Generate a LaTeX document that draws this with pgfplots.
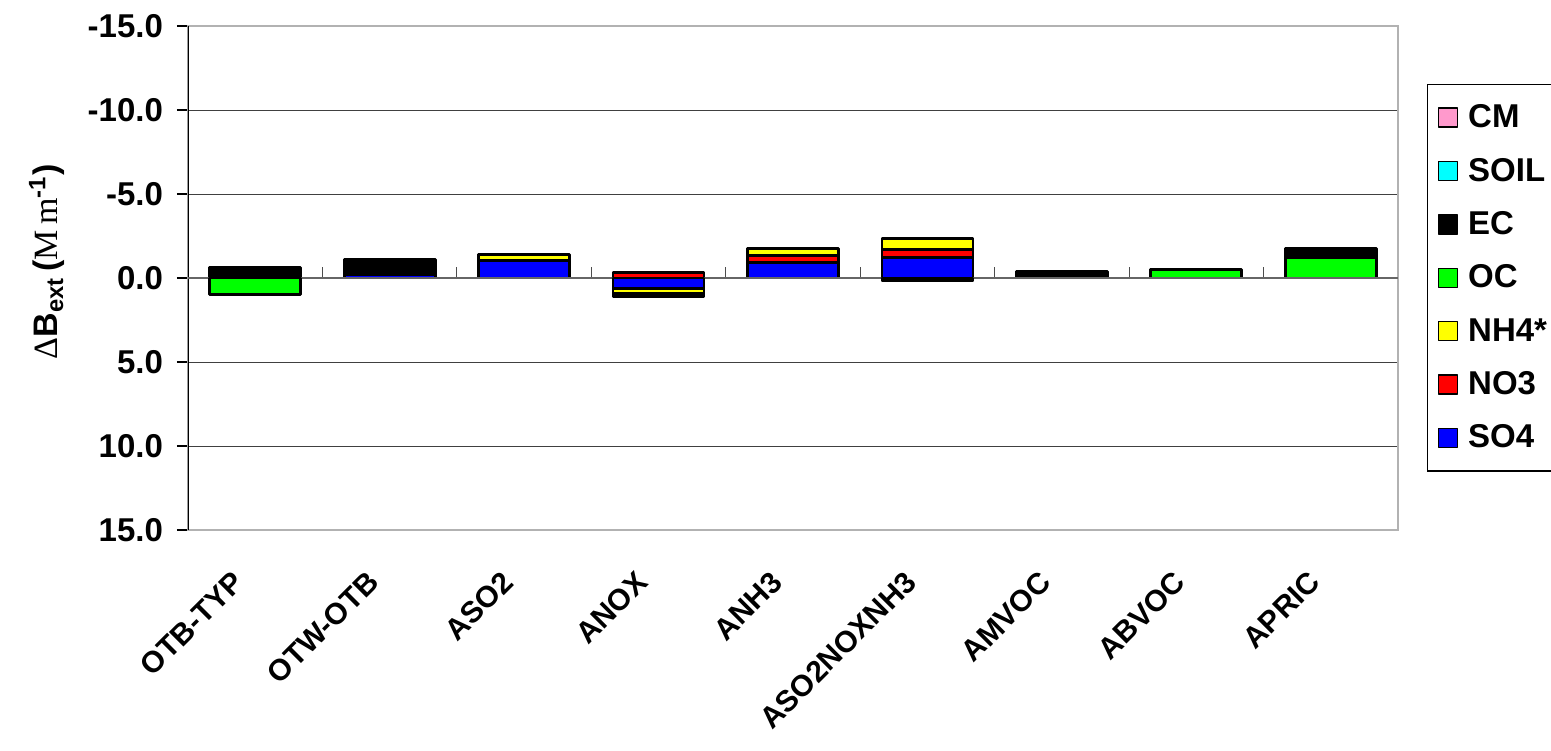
\documentclass[border=0pt]{standalone}
\usepackage{pgfplots}
\pgfplotsset{compat=1.18}
\usepackage{pgfplotstable}
\usepackage{fontspec}
\setmainfont{Liberation Sans}
\newfontfamily\serifff{Liberation Serif}

\definecolor{cSO4}{RGB}{0,0,255}
\definecolor{cNO3}{RGB}{255,0,0}
\definecolor{cNH4}{RGB}{255,255,0}
\definecolor{cOC}{RGB}{0,255,0}
\definecolor{cEC}{RGB}{0,0,0}
\definecolor{cSOIL}{RGB}{0,255,255}
\definecolor{cCM}{RGB}{255,153,204}

\pgfplotstableread{
x SO4 NO3 NH4 OC EC
0 0 0 0 0 -0.62
1 -0.22 0 0 0 -0.87
2 -1.05 0 -0.36 0 0
3 0 -0.35 0 0 0
4 -0.92 -0.44 -0.40 0 0
5 -1.24 -0.48 -0.64 0 0
6 0 0 0 0 -0.37
7 0 0 0 -0.52 0
8 0 0 0 -1.20 -0.56
}\negdata

\pgfplotstableread{
x SO4 NO3 NH4 OC EC
0 0 0 0 1.00 0
3 0.64 0 0.25 0 0.20
5 0 0 0 0 0.18
}\posdata

\newcommand{\fs}{\fontsize{16.5}{19}\selectfont\bfseries}
\newcommand{\fx}{\fontsize{15}{18}\selectfont\bfseries}

\pgfplotsset{
 mybar/.style={fill=#1, draw=black, line width=1.4pt, line join=round,
   legend image code/.code={\draw[fill=#1, draw=black, line width=0.8pt] (0pt,-4.75pt) rectangle (9.5pt,4.75pt);}},
 base/.style={width=605pt, height=252pt, scale only axis, at={(0,0)}, anchor=south west,
   xmin=-0.5, xmax=8.5, ymin=-15, ymax=15, y dir=reverse,
   ybar stacked, bar width=0.677},
}

\begin{document}
\begin{tikzpicture}
\useasboundingbox (-94pt,-110pt) rectangle (681.5pt,265pt);
\begin{axis}[base,
  axis line style={gray!60, line width=1pt},
  ymajorgrids, grid style={black!75, line width=0.5pt},
  ytick={-15,-10,-5,0,5,10,15},
  yticklabels={-15.0,-10.0,-5.0,0.0,5.0,10.0,15.0},
  ytick pos=left, tick align=outside, major tick length=5.5pt,
  ytick style={black, line width=0.6pt},
  yticklabel style={font=\fs, xshift=-3.5pt},
  xtick={0,1,2,3,4,5,6,7,8},
  xticklabels={OTB-TYP,OTW-OTB,ASO2,ANOX,ANH3,ASO2NOXNH3,AMVOC,ABVOC,APRIC},
  xtick style={draw=none},
  xticklabel style={font=\fx, xshift=-12pt, yshift=-14pt, rotate=45, anchor=north east, inner sep=0pt},
  ylabel={{\serifff Δ}\textbf{B\textsubscript{ext}\,(}{\serifff M\,m}\textbf{\textsuperscript{-1})}},
  ylabel style={font=\fontsize{17}{20}\selectfont, at={(axis description cs:-0.1165,0.532)}, anchor=center},
  legend cell align=left,
  reverse legend,
  legend style={at={(axis description cs:1.024,0.885)}, anchor=north west, draw=black, line width=0.6pt,
    font=\fs, row sep=9.7pt, column sep=3pt, inner xsep=5pt, inner ysep=8pt},
]
\draw[black!60, line width=0.8pt] (axis cs:-0.5,0) -- (axis cs:8.5,0);
\pgfplotsinvokeforeach{0.5,1.5,2.5,3.5,4.5,5.5,6.5,7.5}{
  \draw[black!70, line width=0.6pt] (axis cs:#1,0) -- ([yshift=5.3pt]axis cs:#1,0);
}
\addplot[mybar=cSO4] table[x=x,y=SO4]{\negdata};
\addlegendentry{SO4}
\addplot[mybar=cNO3] table[x=x,y=NO3]{\negdata};
\addlegendentry{NO3}
\addplot[mybar=cNH4] table[x=x,y=NH4]{\negdata};
\addlegendentry{NH4*}
\addplot[mybar=cOC] table[x=x,y=OC]{\negdata};
\addlegendentry{OC}
\addplot[mybar=cEC] table[x=x,y=EC]{\negdata};
\addlegendentry{EC}
\addlegendimage{mybar=cSOIL}
\addlegendentry{SOIL}
\addlegendimage{mybar=cCM}
\addlegendentry{CM}
\draw[black, line width=0.7pt] (rel axis cs:0,0) -- (rel axis cs:0,1);
\end{axis}
\begin{axis}[base, hide axis]
\addplot[mybar=cSO4] table[x=x,y=SO4]{\posdata};
\addplot[mybar=cNO3] table[x=x,y=NO3]{\posdata};
\addplot[mybar=cNH4] table[x=x,y=NH4]{\posdata};
\addplot[mybar=cOC] table[x=x,y=OC]{\posdata};
\addplot[mybar=cEC] table[x=x,y=EC]{\posdata};
\end{axis}
\end{tikzpicture}
\end{document}
